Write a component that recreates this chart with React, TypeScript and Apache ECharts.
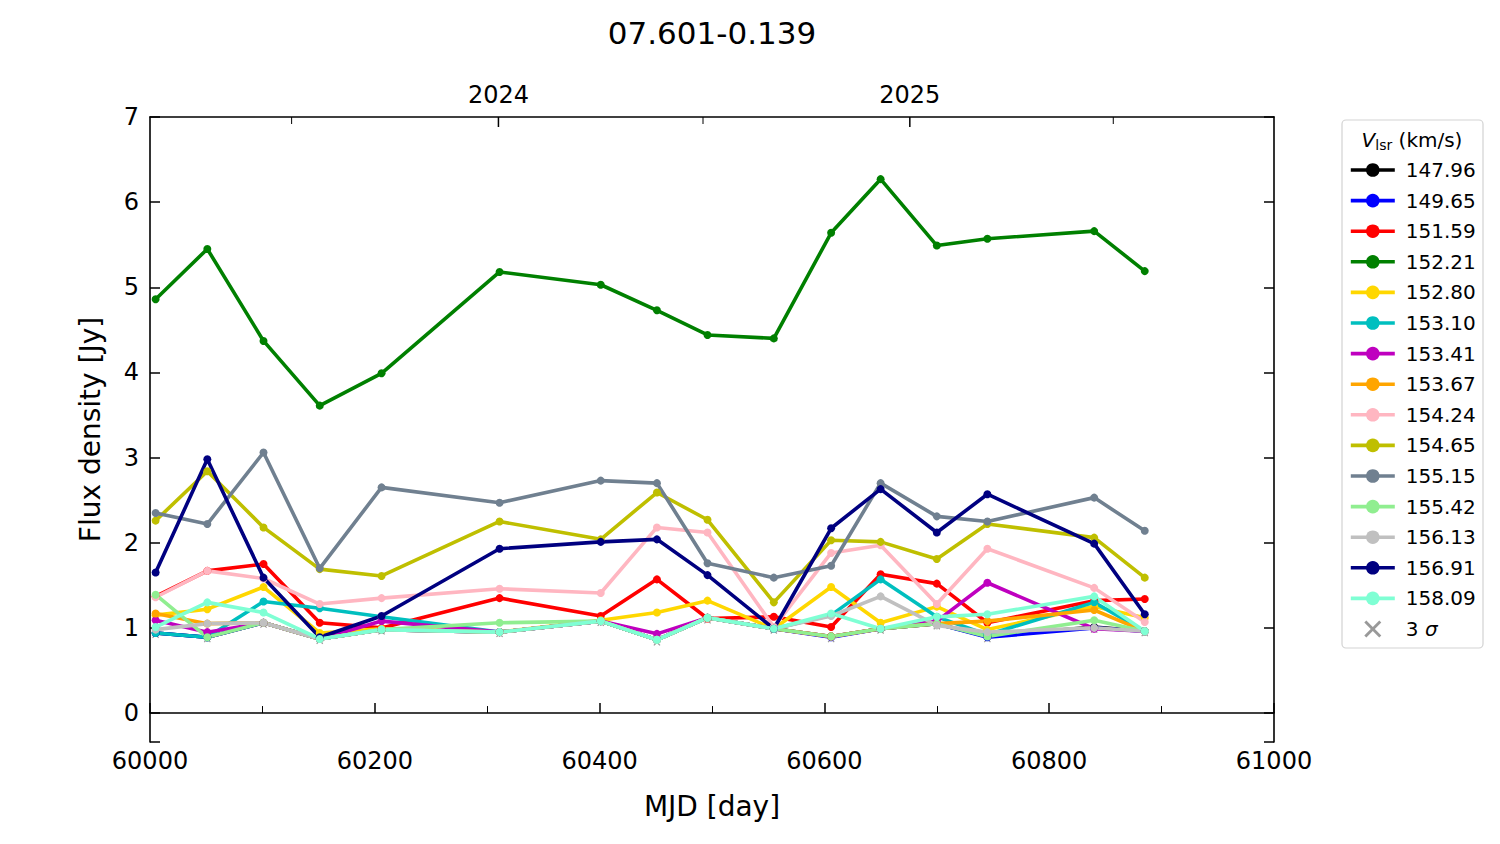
import React, { useEffect, useRef } from 'react';
import * as echarts from 'echarts';

// Observation epochs (MJD)
const MJD = [60005, 60051, 60101, 60151, 60206, 60311, 60401, 60451, 60496, 60555, 60606, 60650, 60700, 60745, 60840, 60885];

// Velocity channels (legend labels)
const VLSR = ['147.96', '149.65', '151.59', '152.21', '152.80', '153.10', '153.41', '153.67', '154.24', '154.65', '155.15', '155.42', '156.13', '156.91', '158.09'];
const COLORS = ['#000000', '#0000ff', '#ff0000', '#008000', '#ffd700', '#00bfbf', '#bf00bf', '#ffa500', '#ffb6c1', '#bfbf00', '#708090', '#90ee90', '#c0c0c0', '#000080', '#7fffd4'];

// Flux densities (Jy) per channel
const flux14796 = [0.94, 0.89, 1.06, 0.87, 0.98, 0.95, 1.08, 0.86, 1.12, 0.99, 0.90, 0.99, 1.05, 0.90, 1.01, 0.96];
const flux14965 = [0.94, 0.89, 1.06, 0.87, 0.98, 0.95, 1.08, 0.86, 1.12, 0.99, 0.89, 0.99, 1.05, 0.89, 1.00, 0.96];
const flux15159 = [1.37, 1.67, 1.75, 1.06, 1.00, 1.35, 1.14, 1.57, 1.11, 1.13, 1.01, 1.63, 1.52, 1.06, 1.32, 1.34];
const flux15221 = [4.86, 5.45, 4.37, 3.61, 3.99, 5.18, 5.03, 4.73, 4.44, 4.40, 5.64, 6.27, 5.49, 5.57, 5.66, 5.19];
const flux15280 = [1.15, 1.22, 1.48, 0.94, 0.99, 0.95, 1.09, 1.18, 1.32, 0.99, 1.48, 1.06, 1.25, 0.98, 1.25, 1.12];
const flux15310 = [0.94, 0.89, 1.31, 1.23, 1.13, 0.95, 1.08, 0.86, 1.12, 0.99, 1.15, 1.57, 1.13, 0.92, 1.30, 0.96];
const flux15341 = [1.09, 0.95, 1.06, 0.87, 1.08, 0.95, 1.08, 0.93, 1.12, 0.99, 0.90, 0.99, 1.08, 1.53, 0.99, 0.96];
const flux15367 = [1.17, 1.05, 1.06, 0.87, 0.98, 0.95, 1.08, 0.86, 1.12, 0.99, 0.90, 0.99, 1.05, 1.08, 1.21, 0.96];
const flux15424 = [1.36, 1.67, 1.58, 1.28, 1.35, 1.46, 1.41, 2.18, 2.12, 1.01, 1.88, 1.97, 1.28, 1.93, 1.47, 1.07];
const flux15465 = [2.26, 2.84, 2.18, 1.69, 1.61, 2.25, 2.04, 2.59, 2.27, 1.30, 2.03, 2.01, 1.81, 2.22, 2.06, 1.59];
const flux15515 = [2.35, 2.22, 3.06, 1.70, 2.65, 2.47, 2.73, 2.70, 1.76, 1.59, 1.73, 2.70, 2.31, 2.25, 2.53, 2.14];
const flux15542 = [1.39, 0.89, 1.06, 0.87, 0.98, 1.06, 1.08, 0.86, 1.12, 0.99, 0.90, 0.99, 1.05, 0.90, 1.09, 0.96];
const flux15613 = [0.98, 1.05, 1.06, 0.87, 0.98, 0.95, 1.08, 0.86, 1.12, 0.99, 1.14, 1.37, 1.03, 0.95, 1.00, 0.96];
const flux15691 = [1.65, 2.98, 1.59, 0.89, 1.14, 1.93, 2.01, 2.04, 1.62, 0.99, 2.17, 2.63, 2.12, 2.57, 1.99, 1.16];
const flux15809 = [1.01, 1.30, 1.18, 0.87, 0.98, 0.95, 1.08, 0.86, 1.12, 0.99, 1.17, 0.99, 1.13, 1.16, 1.37, 0.96];

const FLUX = [flux14796, flux14965, flux15159, flux15221, flux15280, flux15310, flux15341, flux15367, flux15424, flux15465, flux15515, flux15542, flux15613, flux15691, flux15809];

// 3 sigma detection level per epoch (Jy)
const SIGMA3 = [0.92, 0.87, 1.04, 0.85, 0.96, 0.93, 1.06, 0.83, 1.09, 0.97, 0.87, 0.97, 1.02, 0.87, 0.98, 0.94];

// Top axis: calendar ticks
const YEAR_TICK_MJD = [60310, 60676];
const YEAR_LABELS = ['2024', '2025'];
const HALF_YEAR_MJD = [60126, 60492, 60857];

const X_MIN = 60000;
const X_MAX = 61000;
const Y_MIN = -0.34;
const Y_MAX = 7;

const FONT = 'DejaVu Sans';
const SIGMA_NAME = '3 σ';
const CROSS = 'path://M0,1.2L1.2,0L5,3.8L8.8,0L10,1.2L6.2,5L10,8.8L8.8,10L5,6.2L1.2,10L0,8.8L3.8,5Z';
const LINE_W = 3.6;

export default function App() {
  const ref = useRef<HTMLDivElement>(null);

  useEffect(() => {
    document.body.style.margin = '0';
    if (!ref.current) return;
    const chart = echarts.init(ref.current, undefined, { renderer: 'svg' });

    const lineSeries = VLSR.map((name, i) => ({
      name,
      type: 'line',
      data: MJD.map((m, j) => [m, FLUX[i][j]]),
      symbol: 'circle',
      symbolSize: 8,
      showSymbol: true,
      color: COLORS[i],
      lineStyle: { width: LINE_W, color: COLORS[i] },
      itemStyle: { color: COLORS[i] },
      z: 3,
      emphasis: { disabled: true },
    }));

    const tickData = [
      ...YEAR_TICK_MJD.map((m, i) => [m, 1, i]),
      ...HALF_YEAR_MJD.map((m) => [m, 0, -1]),
    ];

    const option: any = {
      animation: false,
      grid: { left: 150, right: 226, top: 117, bottom: 102, containLabel: false },
      graphic: [
        {
          type: 'text',
          x: 712,
          y: 33,
          style: { text: '07.601-0.139', fontSize: 31, fontFamily: FONT, fill: '#000', align: 'center', verticalAlign: 'middle' },
        },
        {
          type: 'rect',
          shape: { x: 1342, y: 120, width: 141, height: 528, r: 4 },
          style: { fill: 'rgba(255,255,255,0.8)', stroke: '#d3d3d3', lineWidth: 1.2 },
          z: 0,
        },
        {
          type: 'text',
          x: 1412,
          y: 140,
          style: {
            text: '{v|V}{s|lsr}{n| (km/s)}',
            align: 'center',
            verticalAlign: 'middle',
            rich: {
              v: { fontSize: 20, fontStyle: 'italic', fontFamily: FONT, fill: '#000' },
              s: { fontSize: 14, fontFamily: FONT, fill: '#000', padding: [10, 0, 0, 0] },
              n: { fontSize: 20, fontFamily: FONT, fill: '#000' },
            },
          },
          z: 10,
        },
      ],
      legend: {
        orient: 'vertical',
        left: 1349,
        top: 160,
        padding: 0,
        itemWidth: 44,
        itemHeight: 17,
        itemGap: 10.6,
        data: [...VLSR, SIGMA_NAME],
        selectedMode: false,
        lineStyle: { width: LINE_W },
        formatter: (name: string) => (name === SIGMA_NAME ? '{n|3 }{i|σ}' : name),
        textStyle: {
          fontSize: 20,
          fontFamily: FONT,
          color: '#000',
          padding: [0, 0, 0, 6],
          rich: {
            n: { fontSize: 20, fontFamily: FONT, color: '#000' },
            i: { fontSize: 20, fontFamily: FONT, fontStyle: 'italic', color: '#000' },
          },
        },
      },
      xAxis: [
        {
          type: 'value',
          position: 'bottom',
          min: X_MIN,
          max: X_MAX,
          interval: 200,
          name: 'MJD [day]',
          nameLocation: 'middle',
          nameGap: 50,
          nameTextStyle: { fontSize: 28, fontFamily: FONT, color: '#000' },
          axisLine: { show: true, lineStyle: { color: '#000', width: 1.6 } },
          axisTick: { show: true, inside: true, length: 10, lineStyle: { color: '#000', width: 1.5 } },
          minorTick: { show: true, splitNumber: 2, length: 7, lineStyle: { color: '#000', width: 1 } },
          axisLabel: { fontSize: 24, fontFamily: FONT, color: '#000', margin: 7, formatter: (v: number) => String(v) },
          splitLine: { show: false },
          minorSplitLine: { show: false },
        },
        {
          type: 'value',
          position: 'top',
          min: X_MIN,
          max: X_MAX,
          axisLine: { show: true, onZero: false, lineStyle: { color: '#000', width: 1.6 } },
          axisTick: { show: false },
          axisLabel: { show: false },
          splitLine: { show: false },
        },
      ],
      yAxis: [
        {
          type: 'value',
          position: 'left',
          min: Y_MIN,
          max: Y_MAX,
          splitNumber: 5,
          name: 'Flux density [Jy]',
          nameLocation: 'middle',
          nameGap: 46,
          nameTextStyle: { fontSize: 28, fontFamily: FONT, color: '#000' },
          axisLine: { show: true, onZero: false, lineStyle: { color: '#000', width: 1.6 } },
          axisTick: { show: true, inside: true, length: 10, lineStyle: { color: '#000', width: 1.5 } },
          axisLabel: {
            fontSize: 24,
            fontFamily: FONT,
            color: '#000',
            margin: 11,
            formatter: (v: number) => (Math.abs(v - Math.round(v)) < 1e-6 ? String(Math.round(v)) : ''),
          },
          splitLine: { show: false },
        },
        {
          type: 'value',
          position: 'right',
          min: Y_MIN,
          max: Y_MAX,
          splitNumber: 5,
          axisLine: { show: true, onZero: false, lineStyle: { color: '#000', width: 1.6 } },
          axisTick: { show: true, inside: true, length: 10, lineStyle: { color: '#000', width: 1.5 } },
          axisLabel: { show: false },
          splitLine: { show: false },
        },
      ],
      series: [
        ...lineSeries,
        {
          name: SIGMA_NAME,
          type: 'scatter',
          data: MJD.map((m, j) => [m, SIGMA3[j]]),
          symbol: CROSS,
          symbolSize: 7,
          symbolKeepAspect: true,
          itemStyle: { color: '#808080' },
          z: 2,
          emphasis: { disabled: true },
        },
        {
          name: 'calendar',
          type: 'custom',
          xAxisIndex: 0,
          yAxisIndex: 0,
          data: tickData,
          clip: false,
          silent: true,
          z: 5,
          renderItem: (params: any, api: any) => {
            const m = api.value(0);
            const major = api.value(1) === 1;
            const li = api.value(2);
            const p = api.coord([m, Y_MAX]);
            const children: any[] = [
              {
                type: 'line',
                shape: { x1: p[0], y1: p[1], x2: p[0], y2: p[1] + (major ? 10 : 7) },
                style: { stroke: '#000', lineWidth: major ? 1.5 : 1 },
              },
            ];
            if (major) {
              children.push({
                type: 'text',
                x: p[0],
                y: p[1] - 10,
                style: { text: YEAR_LABELS[li], fontSize: 24, fontFamily: FONT, fill: '#000', align: 'center', verticalAlign: 'bottom' },
              });
            }
            return { type: 'group', children };
          },
        },
      ],
    };

    chart.setOption(option);
    return () => chart.dispose();
  }, []);

  return <div ref={ref} style={{ width: 1500, height: 844 }} />;
}
